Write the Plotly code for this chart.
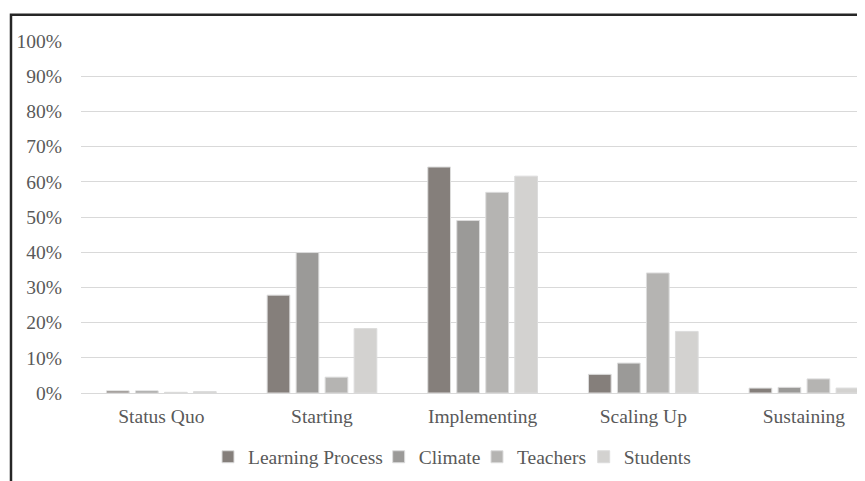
import plotly.graph_objects as go

categories = ["Status Quo", "Starting", "Implementing", "Scaling Up", "Sustaining"]
learning_process = [0.6, 27.8, 64.2, 5.3, 1.4]
climate = [0.6, 39.9, 49.0, 8.5, 1.6]
teachers = [0.2, 4.5, 57.0, 34.1, 4.0]
students = [0.4, 18.3, 61.6, 17.5, 1.4]
series_names = ["Learning Process", "Climate", "Teachers", "Students"]
series_colors = ["#857f7b", "#9b9a98", "#b5b4b2", "#d3d2d0"]
y_ticks = [0, 10, 20, 30, 40, 50, 60, 70, 80, 90, 100]
y_tick_labels = [f"{v}%" for v in y_ticks]

FONT = "Liberation Serif, Times New Roman, serif"

legend_ids = ["legend", "legend2", "legend3", "legend4"]
legend_x = [0.162, 0.3797, 0.5051, 0.6412]

fig = go.Figure()
for name, vals, col, lid in zip(series_names, [learning_process, climate, teachers, students],
                                series_colors, legend_ids):
    fig.add_trace(go.Bar(
        name=name, x=categories, y=vals, legend=lid,
        marker=dict(color=col, line=dict(color="#dcdcdc", width=1)),
    ))

legend_style = dict(orientation="h", xanchor="left", y=-0.182, yanchor="middle",
                    bgcolor="rgba(0,0,0,0)", borderwidth=0,
                    font=dict(family=FONT, size=19.5, color="#595959"))
legends = {lid: dict(legend_style, x=lx) for lid, lx in zip(legend_ids, legend_x)}

fig.update_layout(
    width=857, height=473,
    margin=dict(l=73, r=0, t=33, b=88),
    paper_bgcolor="white", plot_bgcolor="white",
    barmode="group", bargap=0.278, bargroupgap=0.217,
    font=dict(family=FONT, size=19.5, color="#595959"),
    showlegend=True,
    xaxis=dict(range=[-0.5, 4.38], showgrid=False, showline=True, linecolor="#d9d9d9", linewidth=1,
               ticks="", ticklabelstandoff=6, tickfont=dict(size=19.5, color="#595959")),
    yaxis=dict(range=[0, 100], tickvals=y_ticks, ticktext=y_tick_labels, showgrid=True, gridcolor="#d9d9d9",
               gridwidth=1, zeroline=False, showline=False, ticks="", ticklabelstandoff=18,
               tickfont=dict(size=19.5, color="#595959")),
    shapes=[dict(type="rect", xref="paper", yref="paper", x0=-0.0893, x1=1.05, y0=-0.5, y1=1.0748,
                 line=dict(color="#262626", width=2.5), fillcolor="rgba(0,0,0,0)", layer="above")],
    **legends,
)

fig.write_html("out.html")
